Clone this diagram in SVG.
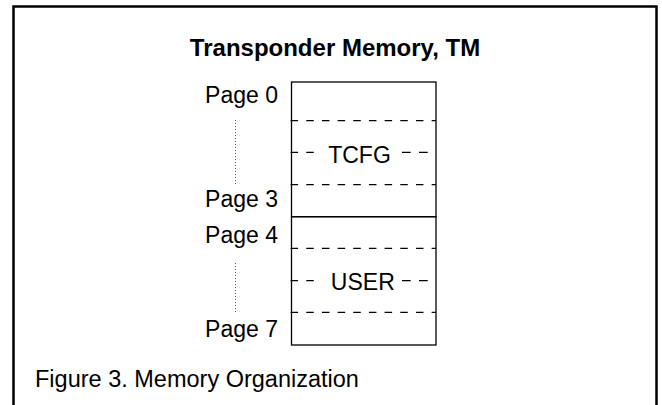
<svg xmlns="http://www.w3.org/2000/svg" width="662" height="405" viewBox="0 0 662 405">
  <style>
    .t { font-family: "Liberation Sans", Arial, sans-serif; font-size: 23px; fill: #000; }
    .foot { font-family: "Liberation Sans", Arial, sans-serif; font-size: 23.5px; fill: #000; }
    .title { font-family: "Liberation Sans", Arial, sans-serif; font-size: 24px; font-weight: bold; fill: #000; }
    .solid { stroke: #000; stroke-width: 1.3; fill: none; }
    .dash { stroke: #000; stroke-width: 1.2; fill: none; stroke-dasharray: 7.5 8.17; }
    .dash2 { stroke: #000; stroke-width: 1.2; fill: none; stroke-dasharray: 8.7 8.3; }
    .dot { stroke: #555; stroke-width: 1; fill: none; stroke-dasharray: 1 2; }
  </style>
  <rect width="662" height="405" fill="#fff"/>
  <path d="M13.5 406 V6.5 H656.5 V406" fill="none" stroke="#000" stroke-width="2.5"/>
  <text class="title" x="335" y="56" text-anchor="middle">Transponder Memory, TM</text>

  <g id="labels">
    <text class="t" x="278" y="102.5" text-anchor="end">Page 0</text>
    <text class="t" x="278" y="207" text-anchor="end">Page 3</text>
    <text class="t" x="278" y="242.5" text-anchor="end">Page 4</text>
    <text class="t" x="278" y="336.5" text-anchor="end">Page 7</text>
  </g>

  <g id="connectors">
    <line class="dot" x1="235.5" y1="120" x2="235.5" y2="185"/>
    <line class="dot" x1="235.5" y1="263" x2="235.5" y2="313"/>
  </g>

  <g id="tcfg">
    <rect class="solid" x="291.5" y="82" width="144.5" height="134.7"/>
    <line class="dash" x1="290.6" y1="120.7" x2="436" y2="120.7"/>
    <line class="dash" x1="290.6" y1="184.7" x2="436" y2="184.7"/>
    <line class="dash" x1="290.6" y1="152.3" x2="316" y2="152.3"/>
    <line class="dash2" x1="402" y1="152.3" x2="436" y2="152.3"/>
    <text class="t" x="359.5" y="162.7" text-anchor="middle">TCFG</text>
  </g>

  <g id="user">
    <rect class="solid" x="291.5" y="216.7" width="144.5" height="128.3"/>
    <line class="dash" x1="290.6" y1="248.3" x2="436" y2="248.3"/>
    <line class="dash" x1="290.6" y1="312.3" x2="436" y2="312.3"/>
    <line class="dash" x1="290.6" y1="280.7" x2="320" y2="280.7"/>
    <line class="dash2" x1="402" y1="280.7" x2="436" y2="280.7"/>
    <text class="t" x="362.8" y="290" text-anchor="middle">USER</text>
  </g>

  <text class="foot" x="35" y="387">Figure 3. Memory Organization</text>
</svg>
